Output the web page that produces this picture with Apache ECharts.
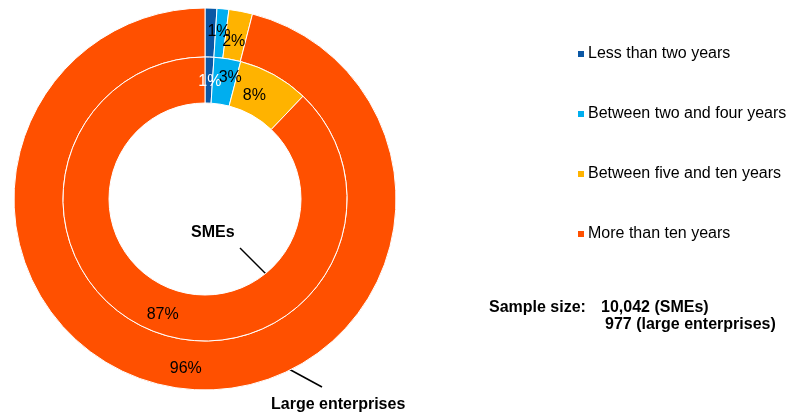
<!DOCTYPE html>
<html>
<head>
<meta charset="utf-8">
<script src="https://cdn.jsdelivr.net/npm/echarts@6/dist/echarts.min.js"></script>
<style>
  html, body { margin: 0; padding: 0; background: #fff; }
  #chart { width: 795px; height: 416px; }
</style>
</head>
<body>
<div id="chart"></div>
<script>
// Company age groups
const categories = [
  'Less than two years',
  'Between two and four years',
  'Between five and ten years',
  'More than ten years'
];
// Shares in percent
const smeValues = [1, 3, 8, 87];
const largeValues = [1, 1, 2, 96];

// Styling
const colors = ['#0B57A4', '#00AEEF', '#FFB300', '#FF5000'];
const labelColors = ['#ffffff', '#000000', '#000000', '#000000'];
// Small nudges so crowded labels sit like in the printed report
const smeLabelOffsets = [[1, 5], [6, -1], [-10, 3], [3, 2]];
const largeLabelOffsets = [[0, 0], [-2, 1], [-3, 9], [2, 1]];

const font = '"Liberation Sans", Arial, sans-serif';

function toData(values, offsets, hideFirstLabel) {
  return values.map((v, i) => ({
    name: categories[i],
    value: v,
    label: {
      color: labelColors[i],
      offset: offsets[i],
      show: !(hideFirstLabel && i === 0)
    }
  }));
}

const pieCommon = {
  type: 'pie',
  center: [205, 199],
  startAngle: 90,
  clockwise: true,
  avoidLabelOverlap: false,
  silent: true,
  minShowLabelAngle: 0,
  itemStyle: { borderColor: '#ffffff', borderWidth: 1 },
  label: {
    show: true,
    position: 'inside',
    formatter: '{c}%',
    fontFamily: font,
    fontSize: 16,
    color: '#000'
  },
  labelLayout: { hideOverlap: false },
  labelLine: { show: false },
  emphasis: { disabled: true }
};

const chart = echarts.init(document.getElementById('chart'), null, { renderer: 'canvas' });
chart.setOption({
  animation: false,
  color: colors,
  legend: {
    orient: 'vertical',
    left: 571,
    top: 41,
    itemWidth: 8,
    itemHeight: 8,
    itemGap: 44,
    icon: 'rect',
    data: categories,
    textStyle: { fontFamily: font, fontSize: 16, color: '#000', padding: [0, 0, 0, -2] }
  },
  series: [
    Object.assign({}, pieCommon, {
      name: 'Large enterprises',
      radius: [142, 191],
      data: toData(largeValues, largeLabelOffsets, true)
    }),
    Object.assign({}, pieCommon, {
      name: 'SMEs',
      radius: [96, 142],
      data: toData(smeValues, smeLabelOffsets, false)
    })
  ],
  graphic: [
    { type: 'text', left: 191, top: 225,
      style: { text: 'SMEs', font: 'bold 16px ' + font, fill: '#000' } },
    { type: 'line', shape: { x1: 240, y1: 248, x2: 266, y2: 274 },
      style: { stroke: '#000', lineWidth: 1.5 } },
    { type: 'text', left: 271, top: 397,
      style: { text: 'Large enterprises', font: 'bold 16px ' + font, fill: '#000' } },
    { type: 'line', shape: { x1: 287, y1: 368, x2: 322, y2: 387 },
      style: { stroke: '#000', lineWidth: 1.5 } },
    { type: 'text', left: 489, top: 300,
      style: { text: 'Sample size:', font: 'bold 16px ' + font, fill: '#000' } },
    { type: 'text', left: 601, top: 300,
      style: { text: '10,042 (SMEs)', font: 'bold 16px ' + font, fill: '#000' } },
    { type: 'text', left: 605, top: 317,
      style: { text: '977 (large enterprises)', font: 'bold 16px ' + font, fill: '#000' } }
  ]
});
</script>
</body>
</html>
